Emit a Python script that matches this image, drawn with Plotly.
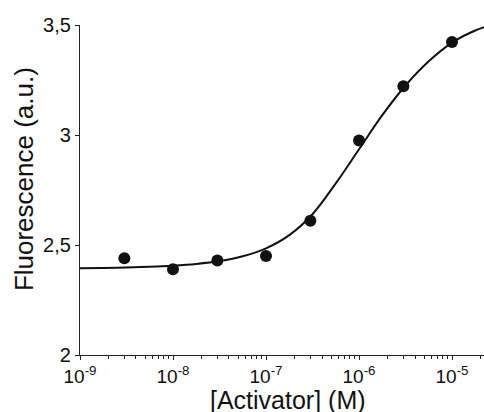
import plotly.graph_objects as go

# Measured data points
conc = [3e-9, 1e-8, 3e-8, 1e-7, 3e-7, 1e-6, 3e-6, 1e-5]
fluo = [2.44, 2.39, 2.43, 2.45, 2.61, 2.975, 3.222, 3.423]

# Fitted curve at quarter-decade steps
curve_conc = [1e-9, 1.78e-9, 3.16e-9, 5.62e-9, 1e-8, 1.78e-8, 3.16e-8, 5.62e-8,
              1e-7, 1.78e-7, 3.16e-7, 5.62e-7, 1e-6, 1.78e-6, 3.16e-6, 5.62e-6,
              1e-5, 1.78e-5, 3.16e-5]
curve_fluo = [2.394, 2.396, 2.398, 2.401, 2.406, 2.414, 2.427, 2.449,
              2.485, 2.545, 2.64, 2.78, 2.935, 3.09, 3.225, 3.335,
              3.42, 3.475, 3.51]

x_tickvals = [1e-9, 1e-8, 1e-7, 1e-6, 1e-5]
x_ticktext = ["10<sup>-9</sup>", "10<sup>-8</sup>", "10<sup>-7</sup>",
              "10<sup>-6</sup>", "10<sup>-5</sup>"]
y_tickvals = [2, 2.5, 3, 3.5]
y_ticktext = ["2", "2,5", "3", "3,5"]

minor_vals = [m * d for d in x_tickvals for m in range(2, 10)]

FONT = "Liberation Sans, Arial, sans-serif"

fig = go.Figure()
fig.add_trace(go.Scatter(x=curve_conc, y=curve_fluo, mode="lines",
                         line=dict(color="#111111", width=2, shape="spline", smoothing=1.0),
                         hoverinfo="skip", showlegend=False))
fig.add_trace(go.Scatter(x=conc, y=fluo, mode="markers",
                         marker=dict(color="#111111", size=12),
                         showlegend=False, cliponaxis=False))

fig.update_layout(
    width=484, height=412,
    margin=dict(l=80, r=0, t=25, b=57),
    paper_bgcolor="white", plot_bgcolor="white",
    font=dict(family=FONT, color="#111111"),
    showlegend=False,
)
fig.update_xaxes(type="log", range=[-9, -4.656],
                 tickvals=x_tickvals, ticktext=x_ticktext,
                 ticks="outside", ticklen=4, tickwidth=1, tickcolor="#222222",
                 minor=dict(tickvals=minor_vals, ticks="outside", ticklen=2.5,
                            tickwidth=1, tickcolor="#222222", showgrid=False),
                 showline=True, linecolor="#222222", linewidth=1.2,
                 showgrid=False, zeroline=False,
                 tickfont=dict(size=19, family=FONT, color="#111111"))
fig.update_yaxes(range=[2, 3.5],
                 tickvals=y_tickvals, ticktext=y_ticktext,
                 ticks="outside", ticklen=4, tickwidth=1, tickcolor="#222222",
                 showline=True, linecolor="#222222", linewidth=1.2,
                 showgrid=False, zeroline=False,
                 tickfont=dict(size=20, family=FONT, color="#111111"))

fig.add_annotation(text="[Activator] (M)", xref="paper", yref="paper",
                   x=0.515, y=-0.136, xanchor="center", yanchor="middle",
                   showarrow=False, font=dict(size=25, family=FONT, color="#111111"))
fig.add_annotation(text="Fluorescence (a.u.)", xref="paper", yref="paper",
                   x=-0.1386, y=0.533, xanchor="center", yanchor="middle",
                   textangle=-90,
                   showarrow=False, font=dict(size=26, family=FONT, color="#111111"))

fig.write_html("out.html", config={"displayModeBar": False},
               post_script="document.body.style.margin='0';document.body.style.overflow='hidden';")
